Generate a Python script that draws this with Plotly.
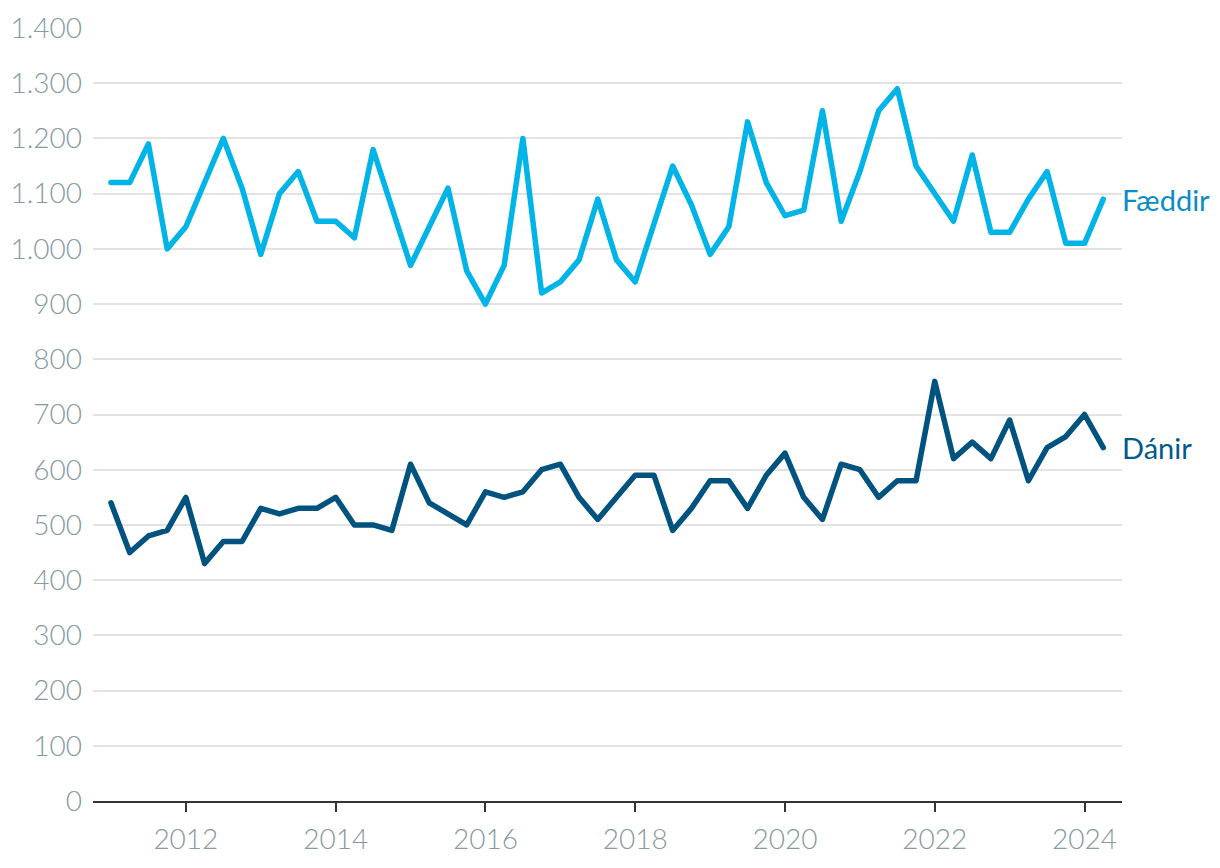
import plotly.graph_objects as go

quarters = [f"{y}Q{q}" for y in range(2011, 2025) for q in range(1, 5)][:54]

faeddir = [1120, 1120, 1190, 1000,
           1040, 1120, 1200, 1110,
           990, 1100, 1140, 1050,
           1050, 1020, 1180, 1075,
           970, 1040, 1110, 960,
           900, 970, 1200, 920,
           940, 980, 1090, 980,
           940, 1045, 1150, 1080,
           990, 1040, 1230, 1120,
           1060, 1070, 1250, 1050,
           1140, 1250, 1290, 1150,
           1100, 1050, 1170, 1030,
           1030, 1090, 1140, 1010,
           1010, 1090]

danir = [540, 450, 480, 490,
         550, 430, 470, 470,
         530, 520, 530, 530,
         550, 500, 500, 490,
         610, 540, 520, 500,
         560, 550, 560, 600,
         610, 550, 510, 550,
         590, 590, 490, 530,
         580, 580, 530, 590,
         630, 550, 510, 610,
         600, 550, 580, 580,
         760, 620, 650, 620,
         690, 580, 640, 660,
         700, 640]

series_names = ["Fæddir", "Dánir"]
x_tick_labels = ["2012", "2014", "2016", "2018", "2020", "2022", "2024"]
y_tick_vals = list(range(0, 1401, 100))
y_tick_text = [f"{v:,}".replace(",", ".") for v in y_tick_vals]

x = [int(s[:4]) + (int(s[5]) - 1) / 4 for s in quarters]

line_colors = ["#00b4e8", "#00527f"]
label_colors = ["#0b8cc6", "#005a8b"]

fig = go.Figure()
for name, ys, lc, tc in zip(series_names, [faeddir, danir], line_colors, label_colors):
    fig.add_trace(go.Scatter(x=x, y=ys, mode="lines", name=name,
                             line=dict(color=lc, width=5.5), hoverinfo="skip",
                             cliponaxis=False))
    fig.add_annotation(x=x[-1], y=ys[-1], text=name, showarrow=False,
                       xanchor="left", yanchor="middle", xshift=17,
                       font=dict(family="Lato", size=29, color=tc))

fig.update_layout(
    width=1220, height=868,
    margin=dict(l=93, r=98, t=28, b=67, autoexpand=False),
    paper_bgcolor="white", plot_bgcolor="white",
    showlegend=False,
    font=dict(family="Lato", size=28, color="#869aa2"),
)
fig.update_xaxes(
    range=[2010.76, 2024.5], automargin=False,
    tickvals=[int(t) for t in x_tick_labels], ticktext=x_tick_labels,
    showgrid=False, zeroline=False,
    showline=True, linecolor="#333333", linewidth=2,
    ticks="outside", ticklen=9, tickwidth=2, tickcolor="#333333",
    ticklabelstandoff=3,
    tickfont=dict(family="Lato", size=28, color="#869aa2", weight=300),
)
fig.update_yaxes(
    range=[0, 1400], automargin=False,
    tickvals=y_tick_vals, ticktext=y_tick_text,
    showgrid=True, gridcolor="#e3e3e3", gridwidth=1.5,
    zeroline=False, showline=False, ticks="",
    ticklabelstandoff=10,
    tickfont=dict(family="Lato", size=28, color="#869aa2", weight=300),
)

style_js = (
    "var s=document.createElement('style');"
    "s.textContent='.js-line{stroke-linejoin:round;stroke-linecap:round;}';"
    "document.head.appendChild(s);"
)
fig.write_html("out.html", post_script=style_js)
